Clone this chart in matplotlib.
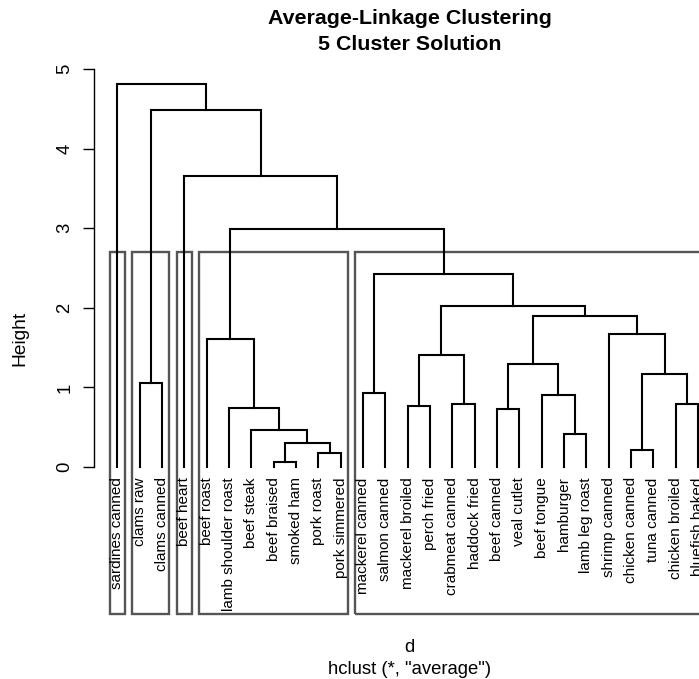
import matplotlib
matplotlib.use("Agg")
import matplotlib.pyplot as plt
from matplotlib.patches import Rectangle

plt.rcParams['font.family'] = ['Liberation Sans', 'DejaVu Sans']

# Leaves in dendrogram order
labels = ["sardines canned", "clams raw", "clams canned", "beef heart",
          "beef roast", "lamb shoulder roast", "beef steak", "beef braised",
          "smoked ham", "pork roast", "pork simmered", "mackerel canned",
          "salmon canned", "mackerel broiled", "perch fried", "crabmeat canned",
          "haddock fried", "beef canned", "veal cutlet", "beef tongue",
          "hamburger", "lamb leg roast", "shrimp canned", "chicken canned",
          "tuna canned", "chicken broiled", "bluefish baked"]

# R-style merge matrix: negative = leaf (1-based position), positive = earlier merge
merge_left = [-8, -10, -24, 1, -21, -7, -18, -6, -14, -16, -26, -20, -12,
              -2, 3, 7, 9, -5, -23, 16, 17, 13, 18, -4, 14, -1]
merge_right = [-9, -11, -25, 2, -22, 4, -19, 6, -15, -17, -27, 5, -13,
               -3, 11, 12, 10, 8, 15, 19, 20, 21, 22, 23, 24, 25]
heights = [0.063, 0.180, 0.213, 0.305, 0.414, 0.464, 0.731, 0.743, 0.764,
           0.786, 0.789, 0.898, 0.931, 1.061, 1.174, 1.295, 1.403, 1.612,
           1.675, 1.892, 2.018, 2.427, 2.986, 3.660, 4.486, 4.816]

# 5-cluster solution: first and last leaf position of each cluster
cluster_first = [1, 2, 4, 5, 12]
cluster_last = [1, 3, 4, 11, 27]

W, H = 699, 679
fig = plt.figure(figsize=(W / 100, H / 100), dpi=100)
px_left, px_right, px_top, px_bottom = 94.3, 699, 69, 614.3
ax = fig.add_axes([px_left / W, 1 - px_bottom / H,
                   (px_right - px_left) / W, (px_bottom - px_top) / H])
ax.set_xlim(-0.03, 27.04)
ax.set_ylim(-1.851, 5.0)

def node_xy(ref, xs):
    if ref < 0:
        return float(-ref), 0.0
    return xs[ref - 1], heights[ref - 1]

xs = []
for i, (l, r) in enumerate(zip(merge_left, merge_right)):
    h = heights[i]
    xl, hl = node_xy(l, xs)
    xr, hr = node_xy(r, xs)
    ax.plot([xl, xl, xr, xr], [hl, h, h, hr], color='black', lw=1.5,
            solid_joinstyle='miter', clip_on=False)
    xs.append((xl + xr) / 2)

# Leaf labels
for i, lab in enumerate(labels):
    ax.text(i + 1, -0.13, lab, rotation=90, ha='center', va='top',
            fontsize=11.0, clip_on=False)

# Cluster rectangles
rect_top = (heights[-4] + heights[-5]) / 2
for a, b in zip(cluster_first, cluster_last):
    x0 = a - 0.34
    x1 = b + 0.33
    ax.add_patch(Rectangle((x0, -1.851), x1 - x0, rect_top + 1.851,
                           fill=False, edgecolor='#555555', lw=1.7,
                           clip_on=False))

for s in ['top', 'right', 'bottom']:
    ax.spines[s].set_visible(False)
ax.spines['left'].set_bounds(0, 5)
ax.spines['left'].set_linewidth(1.0)
ax.set_xticks([])
ax.set_yticks([0, 1, 2, 3, 4, 5])
ax.tick_params(axis='y', length=8, width=1.0, labelsize=13.3, pad=7)
for t in ax.get_yticklabels():
    t.set_rotation(90)
    t.set_va('center')

fig.text(20 / W, 1 - 338 / H, "Height", rotation=90, ha='center',
         va='center', fontsize=13.8)
fig.text(409.5 / W, 1 - 18 / H, "Average-Linkage Clustering", ha='center',
         va='center', fontsize=15.4, fontweight='bold')
fig.text(409.5 / W, 1 - 45 / H, "5 Cluster Solution", ha='center',
         va='center', fontsize=15.4, fontweight='bold')
fig.text(409.5 / W, 1 - 647 / H, "d", ha='center', va='center', fontsize=13.3)
fig.text(409.5 / W, 1 - 670 / H, 'hclust (*, "average")', ha='center',
         va='center', fontsize=13.3)

fig.savefig("out.png", dpi=100)
